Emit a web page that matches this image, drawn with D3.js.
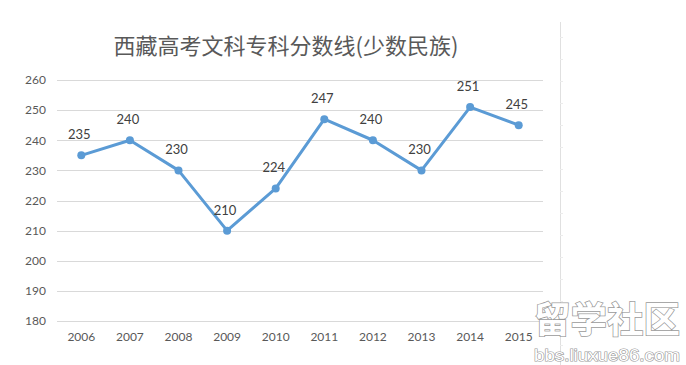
<!DOCTYPE html>
<html><head><meta charset="utf-8">
<script src="https://cdn.jsdelivr.net/npm/d3@7"></script>
<style>body{margin:0;background:#fff;}svg{display:block;}</style>
</head><body>
<script>
const title = "西藏高考文科专科分数线(少数民族)";
const years = ["2006","2007","2008","2009","2010","2011","2012","2013","2014","2015"];
const scores = [235,240,230,210,224,247,240,230,251,245];
const yTicks = [180,190,200,210,220,230,240,250,260];

const W = 686, H = 365;
const svg = d3.select("body").append("svg").attr("width", W).attr("height", H);
svg.append("rect").attr("width", W).attr("height", H).attr("fill", "#fff");

const x = d3.scaleBand().domain(years).range([57, 543]);
const y = d3.scaleLinear().domain([180, 260]).range([321, 80]);

// grid
svg.append("g").selectAll("line").data(yTicks).join("line")
  .attr("x1", 57).attr("x2", 543)
  .attr("y1", d => Math.round(y(d)) + 0.5).attr("y2", d => Math.round(y(d)) + 0.5)
  .attr("stroke", "#d9d9d9").attr("stroke-width", 1);

// y labels
const yAxis = d3.axisLeft(y).tickValues(yTicks).tickSize(0).tickPadding(0);
const gy = svg.append("g").attr("transform", "translate(46,0)").call(yAxis);
gy.select(".domain").remove();
gy.selectAll("text").attr("font-family", "Lato, 'Open Sans', sans-serif").attr("font-size", 12).attr("fill", "#595959");

// x labels
const xAxis = d3.axisBottom(x).tickSize(0).tickPadding(0);
const gx = svg.append("g").attr("transform", "translate(0,332)").call(xAxis);
gx.select(".domain").remove();
gx.selectAll("text").attr("font-family", "Lato, 'Open Sans', sans-serif").attr("font-size", 12).attr("fill", "#595959");

// line
const cx = d => x(d) + x.bandwidth() / 2;
const data = years.map((yr, i) => ({yr, v: scores[i]}));
svg.append("path").datum(data)
  .attr("d", d3.line().x(d => cx(d.yr)).y(d => y(d.v)))
  .attr("fill", "none").attr("stroke", "#5b9bd5").attr("stroke-width", 3).attr("stroke-linejoin", "round");
svg.append("g").selectAll("circle").data(data).join("circle")
  .attr("cx", d => cx(d.yr)).attr("cy", d => y(d.v)).attr("r", 4).attr("fill", "#5b9bd5");
svg.append("g").selectAll("text").data(data).join("text")
  .attr("x", d => cx(d.yr) - 2).attr("y", d => y(d.v) - 16)
  .attr("text-anchor", "middle")
  .attr("font-family", "Lato, 'Open Sans', sans-serif").attr("font-size", 13).attr("fill", "#404040")
  .text(d => d.v);

// title
svg.append("text").attr("x", 286).attr("y", 54).attr("text-anchor", "middle")
  .attr("font-family", "'Noto Sans CJK SC', sans-serif").attr("font-size", 22).attr("fill", "#595959")
  .text(title);

// right vertical rule with small ticks
svg.append("line").attr("x1", 560.5).attr("x2", 560.5).attr("y1", 22).attr("y2", H)
  .attr("stroke", "#e0e0e0").attr("stroke-width", 1);
svg.append("g").selectAll("line").data(d3.range(37, H, 22)).join("line")
  .attr("x1", 560).attr("x2", 563).attr("y1", d => d + 0.5).attr("y2", d => d + 0.5)
  .attr("stroke", "#ececec");

// watermark
const wm = svg.append("g");
wm.append("text").attr("x", 534).attr("y", 333)
  .attr("font-family", "'Noto Sans CJK SC', sans-serif").attr("font-weight", 700).attr("font-size", 36)
  .attr("fill", "#ffffff").attr("stroke", "#9a9a9a").attr("stroke-width", 1.5).attr("paint-order", "stroke")
  .attr("textLength", 146).attr("lengthAdjust", "spacingAndGlyphs")
  .text("留学社区");
wm.append("text").attr("x", 534).attr("y", 361)
  .attr("font-family", "'Liberation Sans', sans-serif").attr("font-size", 17)
  .attr("fill", "#ffffff").attr("stroke", "#9a9a9a").attr("stroke-width", 1.2).attr("paint-order", "stroke")
  .attr("textLength", 146).attr("lengthAdjust", "spacingAndGlyphs")
  .text("bbs.liuxue86.com");
</script>
</body></html>
